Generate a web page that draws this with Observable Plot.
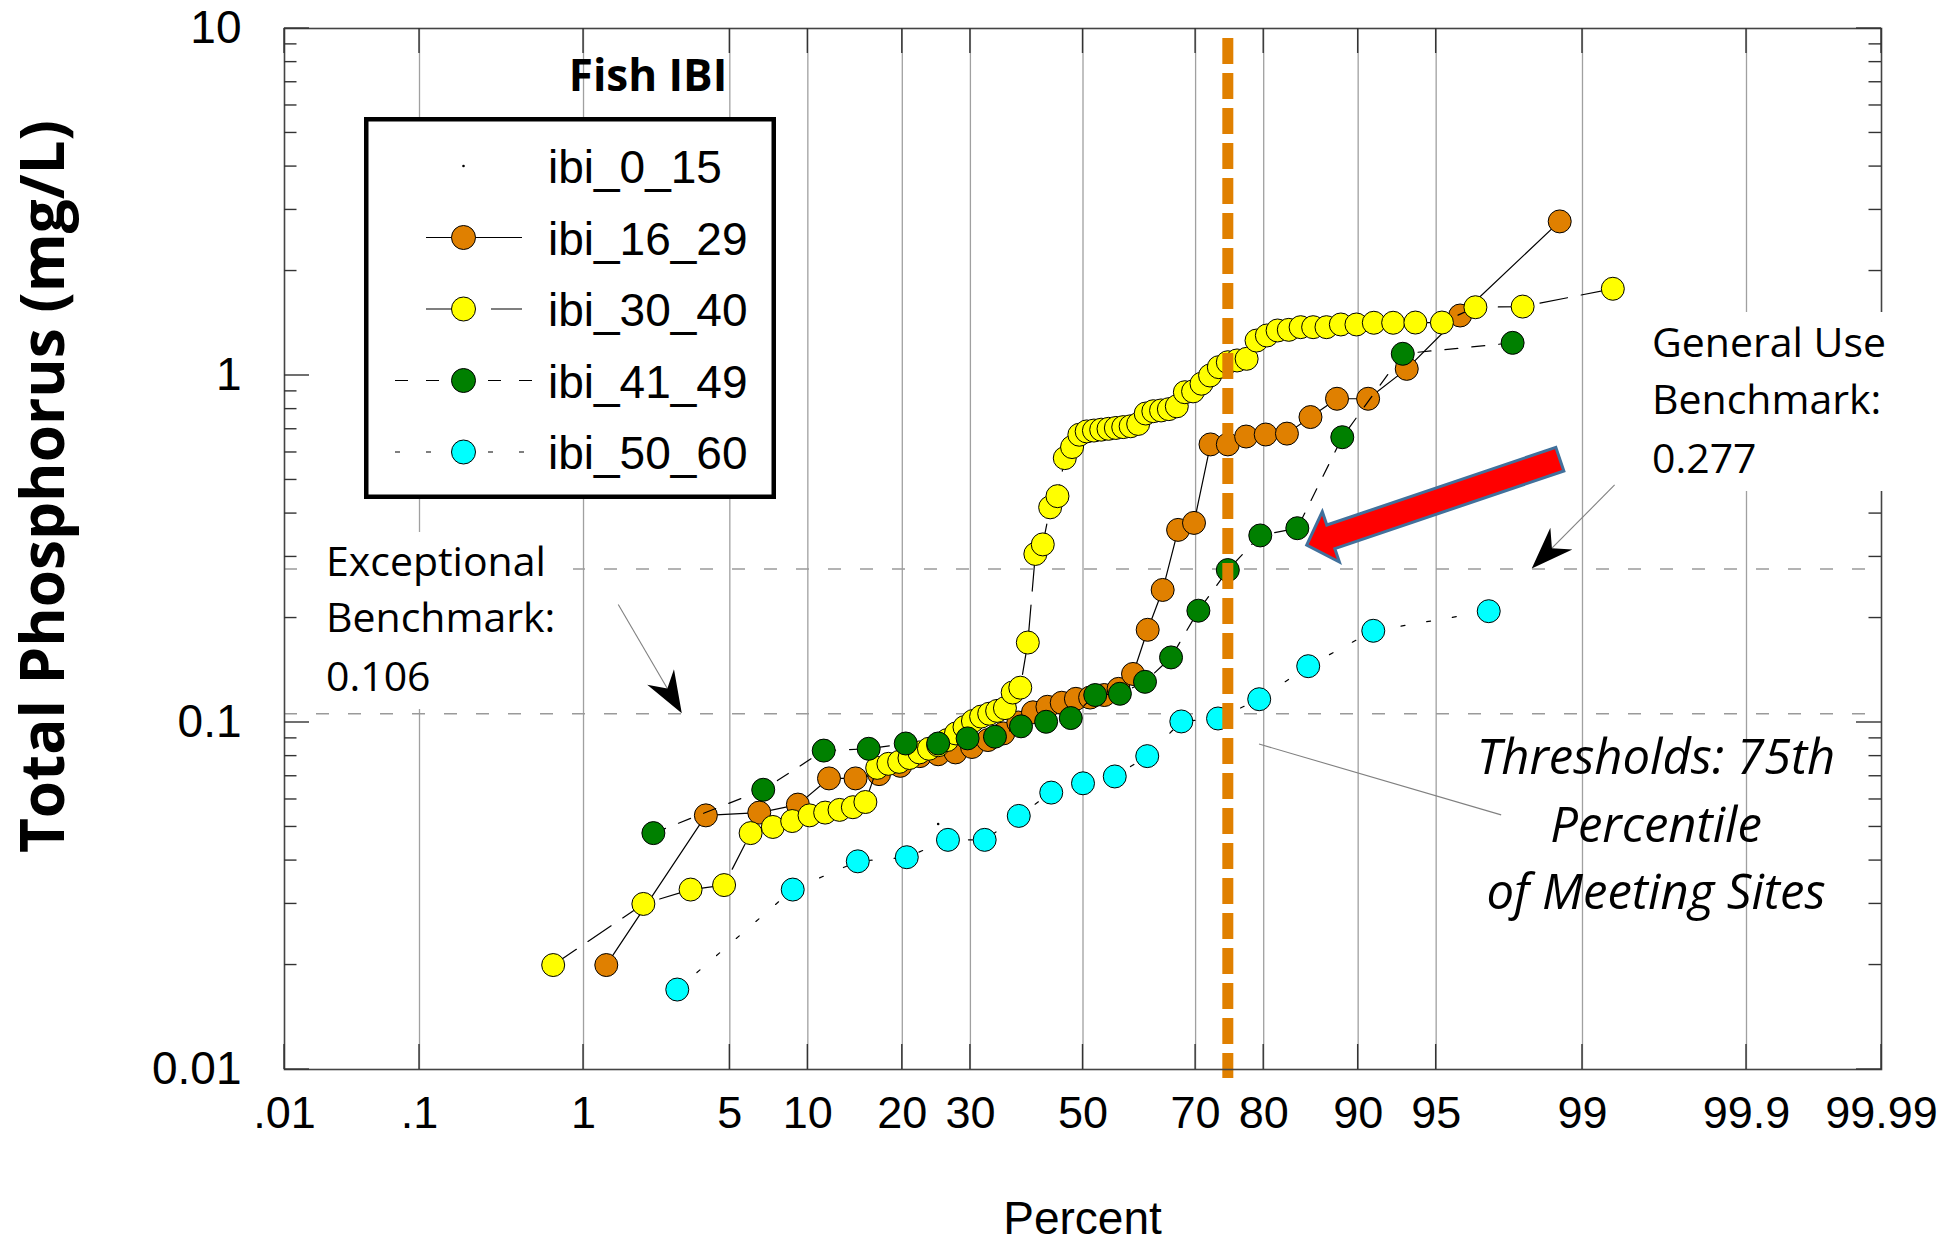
<!DOCTYPE html>
<html>
<head>
<meta charset="utf-8">
<script src="https://cdn.jsdelivr.net/npm/d3@7"></script>
<script src="https://cdn.jsdelivr.net/npm/@observablehq/plot@0.6"></script>
<style>
  html, body { margin: 0; padding: 0; background: #ffffff; }
  #chart svg { display: block; }
</style>
</head>
<body>
<div id="chart"></div>
<script>
// ---------------- DATA ----------------
// plotting position (percent) and total phosphorus (mg/L) per Fish IBI class
const ibi_0_15_pct = [25.0, 75.0];
const ibi_0_15_tp  = [0.051, 0.27];

const ibi_16_29_pct = [1.32, 3.95, 6.58, 9.21, 11.84, 14.47, 17.11, 19.74, 22.37, 25.0,
  27.63, 30.26, 32.89, 35.53, 38.16, 40.79, 43.42, 46.05, 48.68, 51.32,
  53.95, 56.58, 59.21, 61.84, 64.47, 67.11, 69.74, 72.37, 75.0, 77.63,
  80.26, 82.89, 85.53, 88.16, 90.79, 93.42, 96.05, 98.68];
const ibi_16_29_tp = [0.020, 0.054, 0.055, 0.058, 0.069, 0.069, 0.071, 0.075, 0.080, 0.081,
  0.082, 0.085, 0.089, 0.093, 0.100, 0.107, 0.111, 0.114, 0.117, 0.118,
  0.120, 0.125, 0.138, 0.185, 0.241, 0.359, 0.376, 0.633, 0.633, 0.667,
  0.676, 0.680, 0.759, 0.857, 0.857, 1.045, 1.489, 2.78];

const ibi_30_40_pct = [0.68, 2.03, 3.38, 4.73, 6.08, 7.43, 8.78, 10.14, 11.49, 12.84, 14.19, 15.54,
  16.89, 18.24, 19.59, 20.95, 22.30, 23.65, 25.00, 26.35, 27.70, 29.05, 30.41, 31.76,
  33.11, 34.46, 35.81, 37.16, 38.51, 39.86, 41.22, 42.57, 43.92, 45.27, 46.62, 47.97,
  49.32, 50.68, 52.03, 53.38, 54.73, 56.08, 57.43, 58.78, 60.14, 61.49, 62.84, 64.19,
  65.54, 66.89, 68.24, 69.59, 70.95, 72.30, 73.65, 75.00, 76.35, 77.70, 79.05, 80.41,
  81.76, 83.11, 84.46, 85.81, 87.16, 88.51, 89.86, 91.22, 92.57, 93.92, 95.27, 96.62, 97.97, 99.32];
const ibi_30_40_tp = [0.020, 0.030, 0.033, 0.034, 0.048, 0.050, 0.052, 0.054, 0.055, 0.056, 0.057, 0.059,
  0.074, 0.076, 0.077, 0.079, 0.082, 0.084, 0.086, 0.089, 0.093, 0.097, 0.101, 0.104,
  0.106, 0.108, 0.110, 0.122, 0.126, 0.170, 0.306, 0.326, 0.417, 0.449, 0.578, 0.622,
  0.675, 0.690, 0.694, 0.698, 0.702, 0.706, 0.710, 0.714, 0.725, 0.777, 0.789, 0.793,
  0.800, 0.815, 0.895, 0.900, 0.947, 1.000, 1.057, 1.092, 1.105, 1.117, 1.261, 1.304,
  1.348, 1.354, 1.378, 1.378, 1.378, 1.403, 1.403, 1.419, 1.419, 1.421, 1.421, 1.573, 1.580, 1.778];

const ibi_41_49_pct = [2.27, 6.82, 11.36, 15.91, 20.45, 25.0, 29.55, 34.09, 38.64, 43.18, 47.73,
  52.27, 56.82, 61.36, 65.91, 70.45, 75.0, 79.55, 84.09, 88.64, 93.18, 97.73];
const ibi_41_49_tp = [0.048, 0.064, 0.083, 0.084, 0.087, 0.087, 0.090, 0.091, 0.0975, 0.1005, 0.103,
  0.120, 0.121, 0.131, 0.154, 0.210, 0.275, 0.346, 0.363, 0.664, 1.155, 1.242];

const ibi_50_60_pct = [2.94, 8.82, 14.71, 20.59, 26.47, 32.35, 38.24, 44.12, 50.0,
  55.88, 61.76, 67.65, 73.53, 79.41, 85.29, 91.18, 97.06];
const ibi_50_60_tp = [0.0170, 0.0330, 0.0398, 0.0409, 0.0459, 0.0459, 0.0538, 0.0628, 0.0668,
  0.0699, 0.0800, 0.1007, 0.1027, 0.1167, 0.1453, 0.1838, 0.2093];

const seriesNames = ["ibi_0_15", "ibi_16_29", "ibi_30_40", "ibi_41_49", "ibi_50_60"];
const legendTitle = "Fish IBI";

const xTicks = [0.01, 0.1, 1, 5, 10, 20, 30, 50, 70, 80, 90, 95, 99, 99.9, 99.99];
const xTickLabels = [".01", ".1", "1", "5", "10", "20", "30", "50", "70", "80", "90", "95", "99", "99.9", "99.99"];
const yTicks = [0.01, 0.1, 1, 10];
const yTickLabels = ["0.01", "0.1", "1", "10"];
const yMinorMultipliers = [2, 3, 4, 5, 6, 7, 8, 9];

const benchmarks = [0.106, 0.277];
const thresholdPct = 75;

// annotation anchors in data units [percent, mg/L]
const exceptionalArrow = {from: [1.53, 0.218], to: [3.1, 0.106]};
const generalArrow = {from: [99.34, 0.482], to: [98.18, 0.277]};
const thresholdLeader = {from: [79.45, 0.0864], to: [97.44, 0.054]};
const redArrow = {from: [98.69, 0.572], to: [85.18, 0.3236]};

// ---------------- styles ----------------
const colors = {ibi_0_15: "#000000", ibi_16_29: "#E08000", ibi_30_40: "#FFFF00", ibi_41_49: "#008000", ibi_50_60: "#00FFFF"};
const dashes = {ibi_16_29: null, ibi_30_40: "28,14", ibi_41_49: "13,14", ibi_50_60: "4,22"};

// normal quantile (probit) for the probability axis
function probit(p) {
  const a = [-3.969683028665376e+01, 2.209460984245205e+02, -2.759285104469687e+02, 1.383577518672690e+02, -3.066479806614716e+01, 2.506628277459239e+00];
  const b = [-5.447609879822406e+01, 1.615858368580409e+02, -1.556989798598866e+02, 6.680131188771972e+01, -1.328068155288572e+01];
  const c = [-7.784894002430293e-03, -3.223964580411365e-01, -2.400758277161838e+00, -2.549732539343734e+00, 4.374664141464968e+00, 2.938163982698783e+00];
  const d = [7.784695709041462e-03, 3.224671290700398e-01, 2.445134137142996e+00, 3.754408661907416e+00];
  const pl = 0.02425, ph = 1 - pl;
  let q, r;
  if (p < pl) {
    q = Math.sqrt(-2 * Math.log(p));
    return (((((c[0]*q+c[1])*q+c[2])*q+c[3])*q+c[4])*q+c[5]) / ((((d[0]*q+d[1])*q+d[2])*q+d[3])*q+1);
  }
  if (p <= ph) {
    q = p - 0.5; r = q*q;
    return (((((a[0]*r+a[1])*r+a[2])*r+a[3])*r+a[4])*r+a[5])*q / (((((b[0]*r+b[1])*r+b[2])*r+b[3])*r+b[4])*r+1);
  }
  q = Math.sqrt(-2 * Math.log(1 - p));
  return -(((((c[0]*q+c[1])*q+c[2])*q+c[3])*q+c[4])*q+c[5]) / ((((d[0]*q+d[1])*q+d[2])*q+d[3])*q+1);
}
const px = pct => probit(pct / 100);

const seriesData = {
  ibi_0_15: [ibi_0_15_pct, ibi_0_15_tp],
  ibi_16_29: [ibi_16_29_pct, ibi_16_29_tp],
  ibi_30_40: [ibi_30_40_pct, ibi_30_40_tp],
  ibi_41_49: [ibi_41_49_pct, ibi_41_49_tp],
  ibi_50_60: [ibi_50_60_pct, ibi_50_60_tp]
};
const rows = seriesNames.flatMap(k => seriesData[k][0].map((p, i) => ({series: k, pct: p, tp: seriesData[k][1][i]})));

const xLabelMap = new Map(xTicks.map((t, i) => [px(t), xTickLabels[i]]));
const yLabelMap = new Map(yTicks.map((t, i) => [t, yTickLabels[i]]));

const seriesMarks = [];
for (const k of ["ibi_16_29", "ibi_30_40", "ibi_41_49", "ibi_50_60"]) {
  const data = rows.filter(d => d.series === k);
  seriesMarks.push(Plot.line(data, {x: d => px(d.pct), y: "tp", stroke: "#000", strokeWidth: 1.2, strokeDasharray: dashes[k]}));
  seriesMarks.push(Plot.dot(data, {x: d => px(d.pct), y: "tp", r: 11.5, fill: colors[k], stroke: "#000", strokeWidth: 1}));
}
seriesMarks.push(Plot.dot(rows.filter(d => d.series === "ibi_0_15"), {x: d => px(d.pct), y: "tp", r: 1.3, fill: "#000", stroke: "none"}));

const chart = Plot.plot({
  width: 1946,
  height: 1246,
  marginLeft: 284,
  marginRight: 65,
  marginTop: 28,
  marginBottom: 177,
  style: {fontFamily: "'Liberation Sans', Arial, sans-serif", background: "#ffffff", overflow: "visible"},
  x: {domain: [px(0.01), px(99.99)], axis: null},
  y: {type: "log", domain: [0.01, 10], axis: null},
  marks: [
    Plot.ruleX(xTicks.slice(1, -1), {x: px, stroke: "#a0a0a0", strokeWidth: 1.3}),
    Plot.ruleY(benchmarks, {stroke: "#9a9a9a", strokeWidth: 1.4, strokeDasharray: "13,19"}),
    ...seriesMarks,
    Plot.ruleX([thresholdPct], {x: px, stroke: "#E08000", strokeWidth: 11, strokeDasharray: "26,9", insetTop: 10, insetBottom: -9}),
    Plot.frame({stroke: "#444", strokeWidth: 1.6}),
    Plot.axisX(xTicks.map(px), {anchor: "bottom", tickSize: 0, tickPadding: 27, fontSize: 45, label: null, tickFormat: d => xLabelMap.get(d)}),
    Plot.axisY(yTicks, {anchor: "left", tickSize: 0, tickPadding: 43, fontSize: 46, label: null, tickFormat: d => yLabelMap.get(d)})
  ]
});
document.getElementById("chart").append(chart);

// ---------------- decorations drawn with the chart's own scales ----------------
const svg = d3.select(chart);
const sx = chart.scale("x"), sy = chart.scale("y");
const X = pct => sx.apply(px(pct));
const Y = v => sy.apply(v);
const P = ([p, v]) => [X(p), Y(v)];
const fLeft = X(0.01), fRight = X(99.99), fTop = Y(10), fBottom = Y(0.01);

// inward ticks
const tg = svg.append("g").attr("stroke", "#333").attr("stroke-width", 1.4);
for (const t of xTicks) {
  const x = X(t);
  tg.append("line").attr("x1", x).attr("x2", x).attr("y1", fBottom).attr("y2", fBottom - 25);
  tg.append("line").attr("x1", x).attr("x2", x).attr("y1", fTop).attr("y2", fTop + 25);
}
for (const t of yTicks) {
  const y = Y(t);
  tg.append("line").attr("x1", fLeft).attr("x2", fLeft + 25).attr("y1", y).attr("y2", y);
  tg.append("line").attr("x1", fRight).attr("x2", fRight - 25).attr("y1", y).attr("y2", y);
}
for (const dec of yTicks.slice(0, -1)) for (const m of yMinorMultipliers) {
  const y = Y(dec * m);
  tg.append("line").attr("x1", fLeft).attr("x2", fLeft + 12.5).attr("y1", y).attr("y2", y);
  tg.append("line").attr("x1", fRight).attr("x2", fRight - 12.5).attr("y1", y).attr("y2", y);
}

const ann = svg.append("g").attr("text-anchor", "start");

// axis titles
ann.append("text").attr("x", (fLeft + fRight) / 2).attr("y", 1234).attr("text-anchor", "middle")
  .attr("font-family", "'Liberation Sans', Arial, sans-serif").attr("font-size", 46).text("Percent");
ann.append("text").attr("transform", `translate(64,${(fTop + fBottom) / 2 - 62}) rotate(-90)`).attr("text-anchor", "middle")
  .attr("font-family", "'Open Sans', sans-serif").attr("font-weight", 700).attr("font-size", 60)
  .attr("textLength", 733).attr("lengthAdjust", "spacingAndGlyphs").text("Total Phosphorus (mg/L)");

// annotation boxes and text
const cal = "'Open Sans', sans-serif";
ann.append("rect").attr("x", 298).attr("y", 532).attr("width", 275).attr("height", 177).attr("fill", "#fff");
[["Exceptional", 576], ["Benchmark:", 632], ["0.106", 691]].forEach(([t, y]) =>
  ann.append("text").attr("x", 326).attr("y", y).attr("text-anchor", "start").attr("font-family", cal).attr("font-size", 41).text(t));
ann.append("rect").attr("x", 1640).attr("y", 312).attr("width", 262).attr("height", 179).attr("fill", "#fff");
[["General Use", 357], ["Benchmark:", 414], ["0.277", 473]].forEach(([t, y]) =>
  ann.append("text").attr("x", 1652).attr("y", y).attr("text-anchor", "start").attr("font-family", cal).attr("font-size", 41).text(t));
[["Thresholds: 75th", 774], ["Percentile", 842], ["of Meeting Sites", 909]].forEach(([t, y]) =>
  ann.append("text").attr("x", 1656).attr("y", y).attr("text-anchor", "middle").attr("font-family", cal)
    .attr("font-style", "italic").attr("font-size", 49).text(t));

// leader lines and stealth arrows
function stealth(arrow) {
  const tip = P(arrow.to), from = P(arrow.from);
  const dx = from[0] - tip[0], dy = from[1] - tip[1], L = Math.hypot(dx, dy);
  const ux = dx / L, uy = dy / L, nx = -uy, ny = ux;
  const len = 42, half = 15.5, notch = 28.6;
  const nt = [tip[0] + ux * notch, tip[1] + uy * notch];
  ann.append("line").attr("x1", from[0]).attr("y1", from[1]).attr("x2", nt[0]).attr("y2", nt[1])
    .attr("stroke", "#808080").attr("stroke-width", 1.1);
  const b1 = [tip[0] + ux * len + nx * half, tip[1] + uy * len + ny * half];
  const b2 = [tip[0] + ux * len - nx * half, tip[1] + uy * len - ny * half];
  ann.append("path").attr("d", `M${tip}L${b1}L${nt}L${b2}Z`).attr("fill", "#000");
}
stealth(exceptionalArrow);
stealth(generalArrow);
{
  const a = P(thresholdLeader.from), b = P(thresholdLeader.to);
  ann.append("line").attr("x1", a[0]).attr("y1", a[1]).attr("x2", b[0]).attr("y2", b[1]).attr("stroke", "#808080").attr("stroke-width", 1.1);
}

// big red arrow
{
  const T = P(redArrow.from), Tip = P(redArrow.to);
  const dx = Tip[0] - T[0], dy = Tip[1] - T[1], L = Math.hypot(dx, dy);
  const ux = dx / L, uy = dy / L, nx = -uy, ny = ux;
  const h = 12.5, H = 26.6, HL = 25.5;
  const base = [Tip[0] - ux * HL, Tip[1] - uy * HL];
  const pts = [
    [T[0] + nx * h, T[1] + ny * h],
    [base[0] + nx * h, base[1] + ny * h],
    [base[0] + nx * H, base[1] + ny * H],
    Tip,
    [base[0] - nx * H, base[1] - ny * H],
    [base[0] - nx * h, base[1] - ny * h],
    [T[0] - nx * h, T[1] - ny * h]
  ];
  ann.append("path").attr("d", "M" + pts.join("L") + "Z").attr("fill", "#FF0000")
    .attr("stroke", "#41719C").attr("stroke-width", 3).attr("stroke-linejoin", "miter");
}

// legend
{
  const lg = svg.append("g").attr("text-anchor", "start");
  lg.append("text").attr("x", 648).attr("y", 91).attr("text-anchor", "middle").attr("font-family", cal)
    .attr("font-weight", 700).attr("font-size", 44).text(legendTitle);
  lg.append("rect").attr("x", 366.25).attr("y", 119.25).attr("width", 407.5).attr("height", 377.5)
    .attr("fill", "#fff").attr("stroke", "#000").attr("stroke-width", 4.5);
  const legendLine = {ibi_16_29: [426, 522, null], ibi_30_40: [426, 522, "25,40,40"], ibi_41_49: [395, 532, "13,18"], ibi_50_60: [395, 530, "5,26"]};
  seriesNames.forEach((k, i) => {
    const y = 166 + i * 71.5;
    if (k === "ibi_0_15") {
      lg.append("circle").attr("cx", 463.5).attr("cy", y).attr("r", 1.3).attr("fill", "#000");
    } else {
      const [x1, x2, da] = legendLine[k];
      lg.append("line").attr("x1", x1).attr("x2", x2).attr("y1", y).attr("y2", y).attr("stroke", "#000")
        .attr("stroke-width", 1.2).attr("stroke-dasharray", da);
      lg.append("circle").attr("cx", 463.5).attr("cy", y).attr("r", 12).attr("fill", colors[k]).attr("stroke", "#000").attr("stroke-width", 1);
    }
    lg.append("text").attr("x", 548).attr("y", y + 17).attr("text-anchor", "start").attr("font-family", "'Liberation Sans', Arial, sans-serif")
      .attr("font-size", 46).text(k);
  });
}
</script>
</body>
</html>
